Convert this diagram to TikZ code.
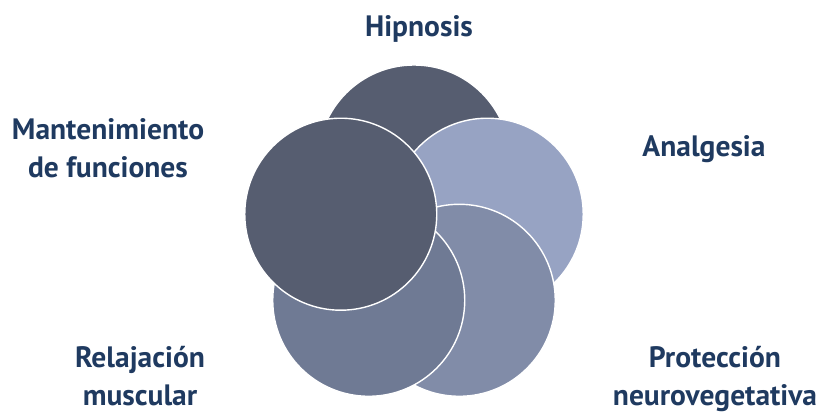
\documentclass[tikz,border=0pt]{standalone}
\usepackage{fontspec}
\setmainfont{PT Sans}
\usetikzlibrary{positioning, calc}
\definecolor{lblcolor}{HTML}{1F3A60}
\definecolor{pdark}{HTML}{565D70}
\definecolor{plight}{HTML}{97A3C3}
\definecolor{pmidr}{HTML}{818CA8}
\definecolor{pmidl}{HTML}{6F7A94}

\begin{document}
\begin{tikzpicture}[
    x=1pt, y=1pt,
    petal/.style={circle, draw=white, line width=1.4pt, minimum size=192pt, inner sep=0pt},
    lbl/.style={font=\fontsize{29.5}{38}\selectfont\bfseries, text=lblcolor, align=center},
  ]
    \useasboundingbox (0,0) rectangle (823,413);
    \coordinate (c) at (414,175);

    % stacking order: top, right, bottom right, bottom left, left
    \node[petal, fill=pdark] (hip) at ($(c)+(90:77)$) {};
    \node[petal, fill=plight] (ana) at ($(c)+(18:77)$) {};
    \node[petal, fill=pmidr] (pro) at ($(c)+(-54:77)$) {};
    \node[petal, fill=pmidl] (rel) at ($(c)+(-126:77)$) {};
    \node[petal, fill=pdark] (man) at ($(c)+(162:77)$) {};

    \node[lbl, anchor=base] (thip) at (419,376) {Hipnosis};
    \node[lbl, anchor=base] (tana) at (704,256) {Analgesia};
    \node[lbl, anchor=base] (tman) at (108,235) {Mantenimiento\\de funciones};
    \node[lbl, anchor=base] (trel) at (140,8) {Relajación\\muscular};
    \node[lbl, anchor=base] (tpro) at (715,8) {Protección\\neurovegetativa};
\end{tikzpicture}
\end{document}
